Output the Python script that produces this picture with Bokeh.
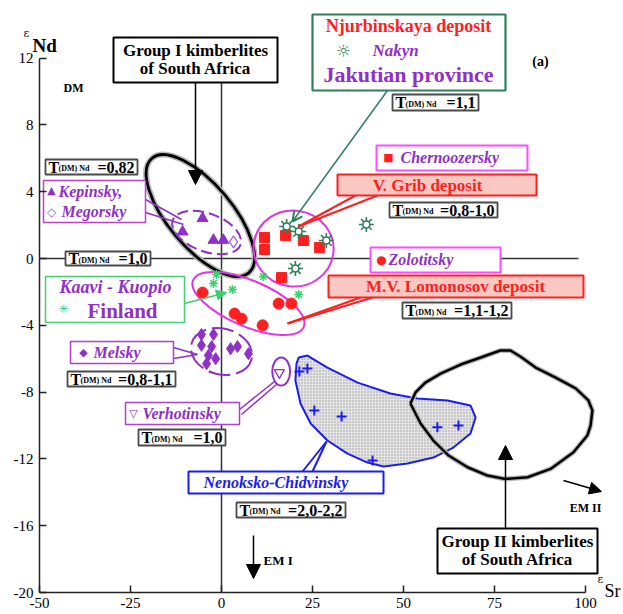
from bokeh.plotting import figure
from bokeh.models import Range1d, FixedTicker, Arrow, NormalHead, OpenHead
from bokeh.embed import file_html
from bokeh.resources import INLINE
from bokeh.core.properties import value

# ---------------- data (eSr, eNd) ----------------
xticks = [-50, -25, 0, 25, 50, 75, 100]
yticks = [-20, -16, -12, -8, -4, 0, 4, 8, 12]

kepinsky_sr = [-5.2, -10.7, -2.2, 0.5]
kepinsky_nd = [2.4, 1.6, 1.1, 1.1]
megorsky_sr = [3.3]
megorsky_nd = [1.0]
melsky_sr = [-5.5, -2.2, -5.5, -2.7, -3.6, -1.6, -4.1, 2.5, 4.4, 7.4]
melsky_nd = [-4.55, -4.55, -5.2, -5.27, -5.8, -6.0, -6.3, -5.4, -5.27, -5.7]
verhot_sr = [15.9]
verhot_nd = [-6.83]
grib_sr = [11.8, 11.8, 17.6, 22.5, 26.9, 16.5]
grib_nd = [1.26, 0.54, 1.38, 1.08, 0.66, -1.14]
nakyn_sr = [17.9, 21.2, 28.8, 20.3, 39.8]
nakyn_nd = [1.92, 1.62, 1.08, -0.6, 2.04]
zolot_sr = [-5.2, 3.6, 5.5, 11.3, 15.7, 19.2]
zolot_nd = [-2.04, -3.3, -3.6, -4.0, -2.7, -2.7]
kaavi_sr = [-1.4, -2.2, 3.0, 11.5, 21.2]
kaavi_nd = [-0.96, -1.5, -1.86, -1.08, -2.16]
nenok_sr = [21.4, 23.6, 25.5, 33.0, 41.5, 59.3, 65.1]
nenok_nd = [-6.77, -6.59, -9.1, -9.46, -12.1, -10.1, -10.0]

# fields drawn as ellipses: centre, width (eSr), height (eNd), angle (rad)
group1_field = [-5.8, 2.57, 41.2, 3.83, -0.87]
kepinsky_field = [-4.1, 1.56, 19.8, 2.28, -0.35]
melsky_field = [0.0, -5.57, 17.0, 2.75, -0.25]
grib_field = [19.8, 0.6, 22.0, 4.55, -0.15]
lomonosov_field = [7.4, -2.69, 33.0, 2.75, -0.40]
verhot_field = [16.4, -6.77, 4.9, 1.68, 0.0]

# outlines of fields
group2_sr = [51.9, 53.3, 56.0, 60.2, 65.7, 71.2, 76.6, 79.4, 82.1, 86.3, 91.8, 97.3, 100.8,
             101.9, 101.4, 100.5, 96.7, 90.4, 84.1, 78.0, 73.1, 67.6, 62.4, 58.2, 54.7, 51.9]
group2_nd = [-8.68, -8.02, -7.43, -6.89, -6.35, -5.93, -5.51, -5.51, -5.87, -6.53, -7.13, -7.78, -8.50,
             -9.10, -10.0, -10.6, -11.6, -12.6, -13.1, -13.2, -13.0, -12.5, -11.8, -10.9, -9.88, -8.68]
nenok_out_sr = [21.2, 23.6, 29.1, 37.4, 46.4, 53.8, 62.1, 68.4, 69.8, 68.4, 63.7, 58.2, 51.1,
                44.5, 40.1, 34.6, 29.1, 24.5, 21.7, 20.3, 20.6]
nenok_out_nd = [-5.93, -5.81, -6.53, -7.43, -8.08, -8.38, -8.50, -8.80, -9.52, -10.48, -11.32, -11.92, -12.28,
                -12.46, -12.22, -11.68, -10.90, -9.88, -8.68, -7.31, -6.29]

# ---------------- styles ----------------
SERIF = "Liberation Serif"
PURPLE = "#9030c8"
RED = "#ff1f1f"
BLUE = "#1c1cf0"
DGREEN = "#2f7f5f"
LGREEN = "#3ccf6e"
MAGENTA = "#e633e6"
PINK = "#f9c8c2"

W, H = 623, 614


# layout helpers (reference pixel -> data)
def X(px):
    return (px - 221) / 3.64


def Y(py):
    return (258 - py) / 16.7


# the frame fills the canvas; axes are pinned at eSr=-50 and eNd=-20
p = figure(width=W, height=H, x_range=Range1d(X(0), X(W)), y_range=Range1d(Y(H), Y(0)),
           output_backend="svg", toolbar_location=None,
           min_border_left=0, min_border_right=0, min_border_top=0, min_border_bottom=0)
p.outline_line_color = None
p.xgrid.visible = False
p.ygrid.visible = False
p.background_fill_color = "white"
p.xaxis.fixed_location = yticks[0]
p.yaxis.fixed_location = xticks[0]

for ax, ticks, sto in ((p.xaxis, xticks, 5), (p.yaxis, yticks, 6)):
    ax.bounds = (ticks[0], ticks[-1])
    ax.ticker = FixedTicker(ticks=ticks)
    ax.major_label_overrides = {t: str(t) for t in ticks}
    ax.major_tick_in = 7
    ax.major_tick_out = 0
    ax.minor_tick_line_color = None
    ax.axis_line_width = 1.5
    ax.axis_line_color = "#222222"
    ax.major_tick_line_width = 1.5
    ax.major_tick_line_color = "#222222"
    ax.major_label_text_font = SERIF
    ax.major_label_text_font_size = "15px"
    ax.major_label_text_color = "black"
    ax.major_label_standoff = sto


def txt(px, py, s, size, color, style="bold", align="center", font=SERIF, baseline="middle"):
    p.text(x=[X(px)], y=[Y(py)], text=[s], text_font=value(font), text_font_size=f"{size}px",
           text_font_style=style, text_color=color, text_align=align, text_baseline=baseline)


def box(l, t, r, b, line, fill="white", lw=1.5):
    p.quad(left=[X(l)], right=[X(r)], top=[Y(t)], bottom=[Y(b)], fill_color=fill,
           line_color=line, line_width=lw)


def poly(pts, color, lw=1.5):
    p.line([X(a) for a, _ in pts], [Y(b) for _, b in pts], line_color=color, line_width=lw)


def arrow(p0, p1, color, lw=1.5, size=12, head="normal"):
    if head == "normal":
        h = NormalHead(size=size, fill_color=color, line_color=color)
    else:
        h = OpenHead(size=size, line_color=color, line_width=2)
    p.add_layout(Arrow(end=h, x_start=X(p0[0]), y_start=Y(p0[1]), x_end=X(p1[0]), y_end=Y(p1[1]),
                       line_color=color, line_width=lw))


def ell(f, color, lw=2, dash="solid"):
    p.ellipse(x=[f[0]], y=[f[1]], width=[f[2]], height=[f[3]], angle=[f[4]],
              fill_color=None, line_color=color, line_width=lw, line_dash=dash)


# ---------------- reference lines ----------------
p.segment(x0=[0], y0=[-20], x1=[0], y1=[Y(82)], line_color="#333333", line_width=1.5)
p.segment(x0=[-50], y0=[0], x1=[X(578)], y1=[0], line_color="#333333", line_width=1.5)

# ---------------- fields ----------------
p.patch(nenok_out_sr, nenok_out_nd, fill_color="#e4e4e4", hatch_pattern="dot", hatch_color="#9a9a9a",
        hatch_scale=3, line_color=BLUE, line_width=2)
p.line(group2_sr, group2_nd, line_color="#b8b8b8", line_width=5)
p.line(group2_sr, group2_nd, line_color="black", line_width=2.5)
ell(group1_field, "#b8b8b8", lw=6)
ell(group1_field, "black", lw=2.8)
ell(kepinsky_field, PURPLE, lw=2, dash="11 5")
ell(melsky_field, PURPLE, lw=2, dash="22 6")
ell(grib_field, MAGENTA, lw=2)
ell(lomonosov_field, MAGENTA, lw=2)
ell(verhot_field, PURPLE, lw=2)

# ---------------- points ----------------
p.scatter(kepinsky_sr, kepinsky_nd, marker="triangle", size=11, fill_color=PURPLE, line_color=PURPLE)
p.scatter(megorsky_sr, megorsky_nd, marker="diamond", size=12, fill_color="white", line_color="#a060d8", line_width=1.2)
p.scatter(melsky_sr, melsky_nd, marker="diamond", size=12, fill_color=PURPLE, line_color=PURPLE)
p.scatter(verhot_sr, verhot_nd, marker="inverted_triangle", size=10, fill_color="white", line_color=PURPLE, line_width=1.3)
p.scatter(grib_sr, grib_nd, marker="square", size=10, fill_color=RED, line_color=RED)
p.scatter(zolot_sr, zolot_nd, marker="circle", size=11, fill_color=RED, line_color=RED)
p.scatter(nakyn_sr, nakyn_nd, marker="asterisk", size=15, line_color=DGREEN, line_width=1.6)
p.scatter(nakyn_sr, nakyn_nd, marker="circle", size=7, fill_color="white", line_color=DGREEN, line_width=1.6)
p.scatter(kaavi_sr, kaavi_nd, marker="asterisk", size=9, line_color=LGREEN, line_width=1.5)
p.scatter(nenok_sr, nenok_nd, marker="cross", size=10, line_color=BLUE, line_width=2)

# ---------------- connectors ----------------
poly([(145, 199), (181, 219)], PURPLE)
poly([(145, 212), (183, 224)], PURPLE)
poly([(173, 347), (197, 354)], PURPLE)
poly([(173, 358), (197, 354)], PURPLE)
poly([(239, 409), (274, 381)], PURPLE)
poly([(241, 414), (276, 384)], PURPLE)
poly([(302, 471), (326, 441)], BLUE, 2)
poly([(312, 471), (326, 441)], BLUE, 2)
poly([(355, 195), (298, 226)], RED, 2)
poly([(377, 195), (298, 226)], RED, 2)
poly([(360, 297), (287, 323)], RED, 2)
poly([(372, 297), (287, 323)], RED, 2)
arrow((387, 90), (292, 221), DGREEN, lw=1.5, size=10, head="open")
arrow((184, 303), (226, 292), LGREEN, lw=1.5, size=10)
arrow((195, 82), (195, 184), "black", lw=1.5, size=14)
arrow((505, 528), (505, 445), "black", lw=1.5, size=14)
arrow((253, 535), (253, 578), "black", lw=1.5, size=14)
arrow((563, 480), (601, 491), "black", lw=1.5, size=12)

# ---------------- text boxes ----------------
box(113, 37, 277, 82, "black", lw=2)
txt(195, 50, "Group I kimberlites", 17, "black")
txt(195, 68, "of South Africa", 17, "black")

box(437, 528, 597, 573, "black", lw=2)
txt(517, 541, "Group II kimberlites", 17, "black")
txt(517, 559, "of South Africa", 17, "black")

box(312, 14, 505, 90, DGREEN, lw=2.2)
txt(408, 25, "Njurbinskaya deposit", 18, RED)
txt(343, 50, "☼", 17, DGREEN, style="normal", font="DejaVu Sans")
txt(372, 50, "Nakyn", 17, PURPLE, style="bold italic", align="left")
txt(408, 74, "Jakutian province", 22, PURPLE)

box(43, 180, 145, 222, "#c040c8")
txt(51, 190, "▲", 11, PURPLE, style="normal", font="DejaVu Sans")
txt(58, 191, "Kepinsky,", 16, PURPLE, style="bold italic", align="left")
txt(51, 211, "◇", 12, "#a060d8", style="normal", font="DejaVu Sans")
txt(61, 211, "Megorsky", 16, PURPLE, style="bold italic", align="left")

box(45, 276, 184, 322, "#44d070")
txt(115, 286, "Kaavi - Kuopio", 18, PURPLE, style="bold italic")
txt(63, 308, "✳", 12, LGREEN, style="normal", font="DejaVu Sans")
txt(122, 310, "Finland", 21, PURPLE)

box(70, 341, 173, 363, "#b040d0")
txt(83, 352, "◆", 11, PURPLE, style="normal", font="DejaVu Sans")
txt(93, 352, "Melsky", 16, PURPLE, style="bold italic", align="left")

box(125, 402, 239, 424, "#b040d0")
txt(133, 413, "▽", 11, PURPLE, style="normal", font="DejaVu Sans")
txt(142, 413, "Verhotinsky", 16, PURPLE, style="bold italic", align="left")

box(188, 471, 383, 493, BLUE, lw=2)
txt(203, 482, "Nenoksko-Chidvinsky", 16, BLUE, style="bold italic", align="left")

box(376, 145, 527, 170, "#ff4cff", lw=2)
txt(388, 157, "■", 11, RED, style="normal", font="DejaVu Sans")
txt(400, 157, "Chernoozersky", 16, PURPLE, style="bold italic", align="left")

box(337, 174, 536, 195, RED, fill=PINK, lw=2)
txt(427, 185, "V. Grib deposit", 17, RED)

box(370, 247, 500, 272, "#ff4cff", lw=2)
txt(381, 259, "●", 12, RED, style="normal", font="DejaVu Sans")
txt(388, 259, "Zolotitsky", 16, PURPLE, style="bold italic", align="left")

box(328, 275, 583, 297, RED, fill=PINK, lw=2)
txt(455, 286, "M.V. Lomonosov deposit", 17, RED)

# T(DM) Nd boxes
tboxes = [
    (45, 159, 137, 174, "=0,82"),
    (392, 94, 478, 110, "=1,1"),
    (389, 202, 497, 217, "=0,8-1,0"),
    (65, 251, 150, 265, "=1,0"),
    (402, 302, 511, 318, "=1,1-1,2"),
    (67, 371, 175, 386, "=0,8-1,1"),
    (138, 429, 225, 445, "=1,0"),
    (236, 502, 345, 517, "=2,0-2,2"),
]
for l, t, r, b, v in tboxes:
    box(l, t, r, b, "#4a4a4a", lw=1.8)
    yc = (t + b) / 2.0
    txt(l + 3, yc, "T", 16, "black", align="left")
    txt(l + 13, yc + 1.5, "(DM) Nd", 8, "black", align="left")
    txt(r - 3, yc, v, 16, "black", align="right")

txt(73, 87, "DM", 12, "black")
txt(540, 61, "(a)", 14, "black")
txt(263, 560, "EM I", 13, "black", align="left")
txt(585, 507, "EM II", 12, "black")

# axis titles
txt(23, 33, "ε", 11, "black", style="normal", align="left", font="DejaVu Serif")
txt(32, 45, "Nd", 19, "black", align="left")
txt(597, 579, "ε", 11, "black", style="normal", align="left", font="DejaVu Serif")
txt(604, 590, "Sr", 18, "black", style="normal", align="left")

open("out.html", "w").write(file_html(p, INLINE))
